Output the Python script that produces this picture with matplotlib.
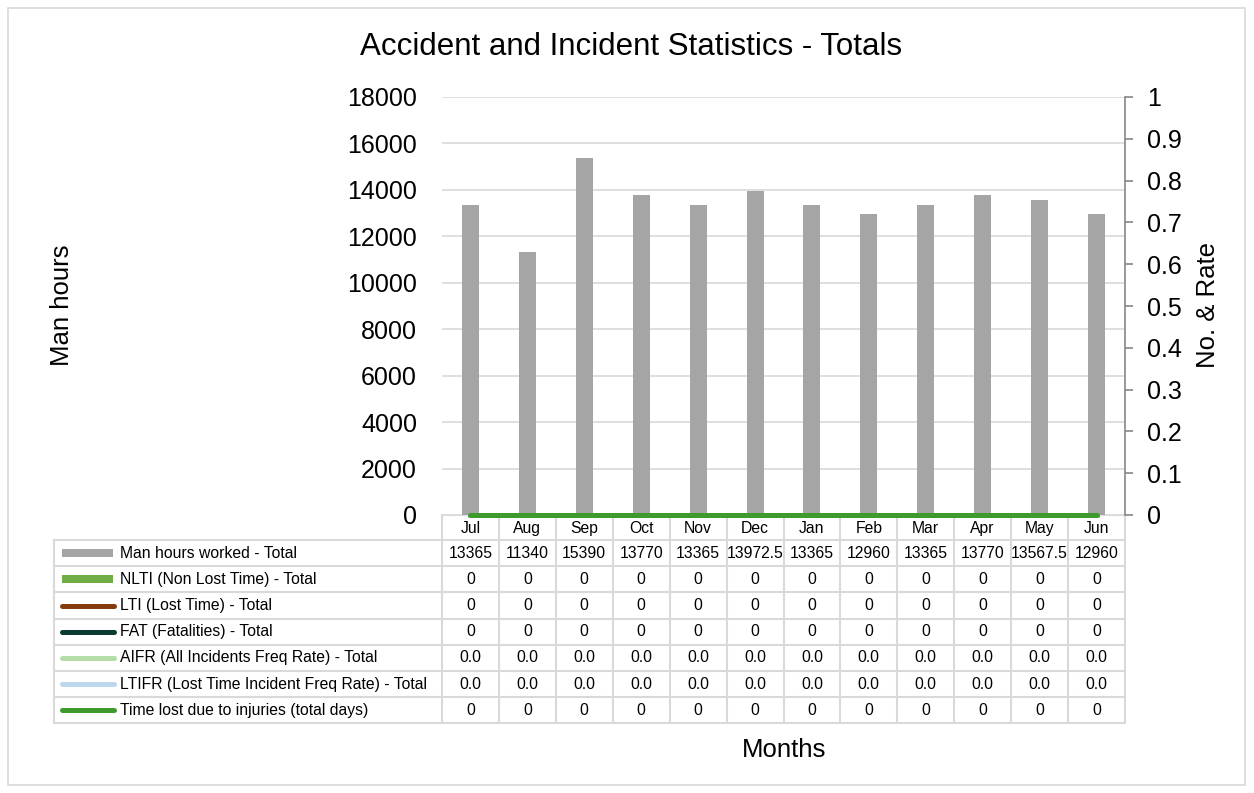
import matplotlib
matplotlib.use('Agg')
import matplotlib.pyplot as plt
from matplotlib.patches import Rectangle
import numpy as np

months = ['Jul', 'Aug', 'Sep', 'Oct', 'Nov', 'Dec', 'Jan', 'Feb', 'Mar', 'Apr', 'May', 'Jun']
man_hours = [13365, 11340, 15390, 13770, 13365, 13972.5, 13365, 12960, 13365, 13770, 13567.5, 12960]
nlti = [0] * 12
lti = [0] * 12
fat = [0] * 12
aifr = [0.0] * 12
ltifr = [0.0] * 12
time_lost = [0] * 12

series_names = ['Man hours worked - Total', 'NLTI (Non Lost Time) - Total', 'LTI (Lost Time) - Total',
                'FAT (Fatalities) - Total', 'AIFR (All Incidents Freq Rate) - Total',
                'LTIFR (Lost Time Incident Freq Rate) - Total', 'Time lost due to injuries (total days)']
series_vals = [man_hours, nlti, lti, fat, aifr, ltifr, time_lost]
series_fmt = ['g', 'd', 'd', 'd', '.1f', '.1f', 'd']
colors = ['#A5A5A5', '#70AD47', '#843C0C', '#0B3B30', '#B4DDAA', '#BDD7EE', '#3F9A2E']

plt.rcParams['font.family'] = ['Liberation Sans', 'DejaVu Sans']

W, H = 1254, 793
fig = plt.figure(figsize=(W / 100, H / 100), dpi=100)

# layout in pixels
px_l, px_r, px_t, px_b = 442, 1125, 97, 515
tab_l, row_h = 54, 26.2

def fx(x):
    return x / W

def fy(y):
    return 1 - y / H

fig.patches.append(Rectangle((fx(8), fy(785)), fx(1237), 777 / H, transform=fig.transFigure,
                             fill=False, edgecolor='#D9D9D9', lw=1.2))

ax = fig.add_axes([fx(px_l), fy(px_b), fx(px_r - px_l), (px_b - px_t) / H])
x = np.arange(12)
ax.bar(x, man_hours, width=0.3, color=colors[0], zorder=2)
ax.set_xlim(-0.5, 11.5)
ax.set_ylim(0, 18000)
ax.set_yticks(range(0, 18001, 2000))
ax.grid(axis='y', color='#D9D9D9', lw=1.2, zorder=0)
ax.set_xticks([])
for s in ax.spines.values():
    s.set_visible(False)
ax.tick_params(axis='y', length=0, labelsize=18, pad=18)

ax2 = ax.twinx()
ax2.set_ylim(0, 1)
ax2.set_yticks(np.arange(0, 1.01, 0.1))
ax2.set_yticklabels(['0', '0.1', '0.2', '0.3', '0.4', '0.5', '0.6', '0.7', '0.8', '0.9', '1'])
for s in ['top', 'left', 'bottom']:
    ax2.spines[s].set_visible(False)
ax2.spines['right'].set_color('#868686')
ax2.spines['right'].set_linewidth(1.2)
ax2.tick_params(axis='y', direction='out', length=6, width=1.2, color='#868686', labelsize=18, pad=10)
for vals, c in zip(series_vals[1:], colors[1:]):
    ax2.plot(x, vals, color=c, lw=3.6, solid_capstyle='round', zorder=3, clip_on=False)

fig.text(fx(631), fy(47), 'Accident and Incident Statistics - Totals',
         ha='center', va='center', fontsize=22.5)
fig.text(fx(62), fy(305), 'Man hours', rotation=90, ha='center', va='center', fontsize=18.5)
fig.text(fx(1208), fy(305), 'No. & Rate', rotation=90, ha='center', va='center', fontsize=18.5)
fig.text(fx(784), fy(750), 'Months', ha='center', va='center', fontsize=18.5)

# data table
tab = fig.add_axes([0, 0, 1, 1], zorder=-1)
tab.set_xlim(0, W)
tab.set_ylim(H, 0)
tab.axis('off')
col_w = (px_r - px_l) / 12
grid_c = '#D9D9D9'
nrows = len(series_names)
y_head_b = px_b + 25
y_end = y_head_b + nrows * row_h
fs = 11.3
# header row
tab.plot([px_l, px_r], [px_b, px_b], color=grid_c, lw=1.5)
for i, m in enumerate(months):
    tab.text(px_l + (i + 0.5) * col_w, (px_b + y_head_b) / 2 + 1, m, ha='center', va='center', fontsize=fs)
for k in range(nrows + 1):
    yy = y_head_b + k * row_h
    tab.plot([tab_l, px_r], [yy, yy], color=grid_c, lw=1.5)
for i in range(13):
    xx = px_l + i * col_w
    tab.plot([xx, xx], [px_b, y_end], color=grid_c, lw=1.5)
tab.plot([tab_l, tab_l], [y_head_b, y_end], color=grid_c, lw=1.5)
for k, (name, vals, fmt, c) in enumerate(zip(series_names, series_vals, series_fmt, colors)):
    yc = y_head_b + (k + 0.5) * row_h
    if k < 2:
        tab.add_patch(Rectangle((62, yc - 4), 51, 8, color=c, lw=0))
    else:
        tab.plot([62, 114], [yc, yc], color=c, lw=3.6, solid_capstyle='round')
    tab.text(120, yc, name, ha='left', va='center', fontsize=fs)
    for i, v in enumerate(vals):
        tab.text(px_l + (i + 0.5) * col_w, yc, format(v, fmt), ha='center', va='center', fontsize=fs)

fig.savefig('out.png', dpi=100)
